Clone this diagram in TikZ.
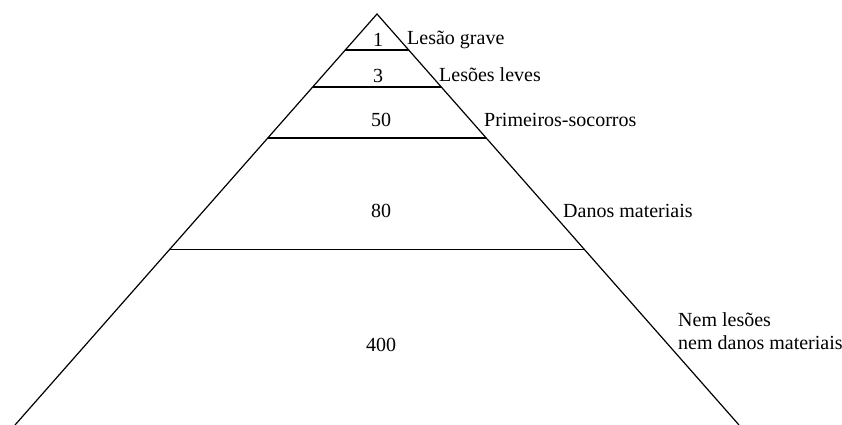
\documentclass[tikz,border=0pt]{standalone}
\usepackage{fontspec}
\setmainfont{Liberation Serif}
\usetikzlibrary{calc}

\tikzset{
  nivel/.style={line width=1.2pt},
  numero/.style={font=\fontsize{20}{23}\selectfont, inner sep=0pt},
  rotulo/.style={font=\fontsize{20}{23}\selectfont, anchor=west, inner sep=0pt, align=left}
}

\begin{document}
\begin{tikzpicture}[x=1pt, y=-1pt]
        % Moldura da figura
        \useasboundingbox (0,0) rectangle (842,425);

        % Vértices da pirâmide
        \coordinate (topo) at (377,14);
        \coordinate (baseE) at (15,425);
        \coordinate (baseD) at (739,425);
        \draw[nivel] (baseE) -- (topo) -- (baseD);

        % Divisões entre os níveis (de cima para baixo)
        \draw[nivel] ($(topo)!0.0876!(baseE)$) -- ($(topo)!0.0876!(baseD)$);
        \draw[nivel] ($(topo)!0.1776!(baseE)$) -- ($(topo)!0.1776!(baseD)$);
        \draw[nivel] ($(topo)!0.3017!(baseE)$) -- ($(topo)!0.3017!(baseD)$);
        \draw[nivel] ($(topo)!0.573!(baseE)$) -- ($(topo)!0.573!(baseD)$);

        % Números dentro de cada nível
        \node[numero] (n1) at (378,40) {1};
        \node[numero] (n3) at (378,76) {3};
        \node[numero] (n50) at (381,120) {50};
        \node[numero] (n80) at (381,211) {80};
        \node[numero] (n400) at (381,345) {400};

        % Rótulos à direita
        \node[rotulo] (grave) at (407,40) {Lesão grave};
        \node[rotulo] (leves) at (439,75) {Lesões leves};
        \node[rotulo] (socorros) at (484,120) {Primeiros-socorros};
        \node[rotulo] (danos) at (563,211) {Danos materiais};
        \node[rotulo] (nem) at (678,331) {Nem lesões\\nem danos materiais};

\end{tikzpicture}
\end{document}
